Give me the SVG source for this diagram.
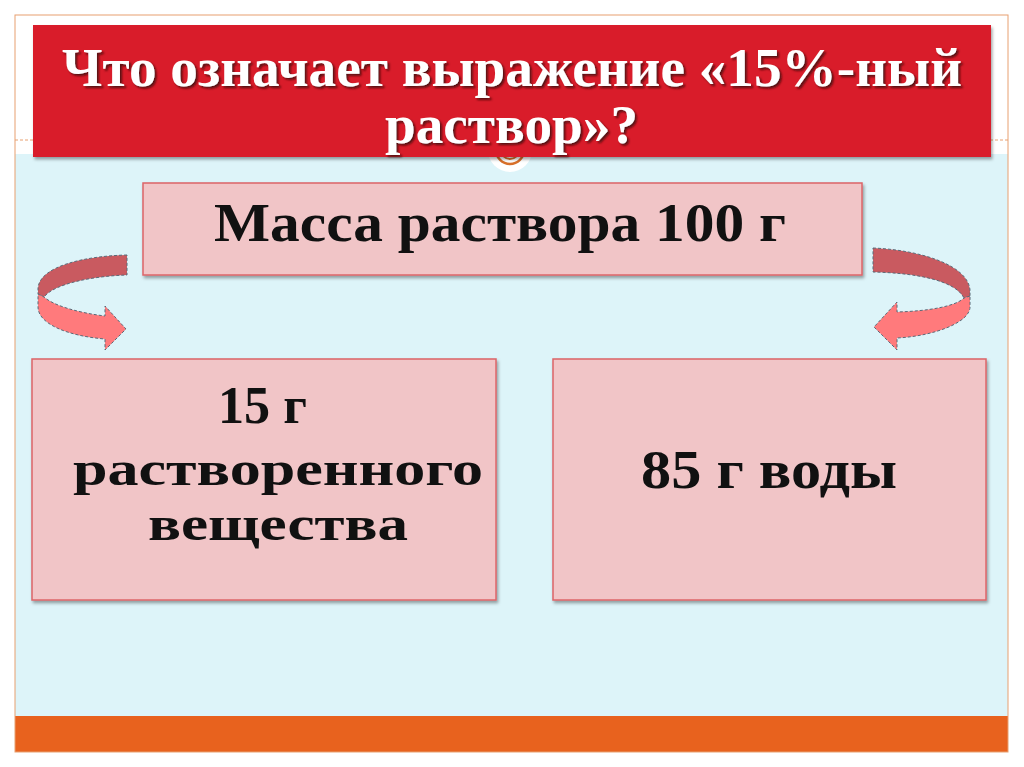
<svg xmlns="http://www.w3.org/2000/svg" width="1024" height="767" viewBox="0 0 1024 767">
<style>
.box{fill:#f1c5c7;stroke:#dc6468;stroke-width:1.5}
.txt{font-family:"Liberation Serif","DejaVu Serif",serif;font-weight:bold;fill:#111}
.title{font-family:"Liberation Serif","DejaVu Serif",serif;font-weight:bold;fill:#ffffff;font-size:54px}
.dark{fill:#c95a60;stroke:#5a6a78;stroke-width:1;stroke-dasharray:3 2}
.light{fill:#ff7a7c;stroke:#5a6a78;stroke-width:1;stroke-dasharray:3 2}
</style>
<defs>
<filter id="sh" x="-5%" y="-10%" width="110%" height="130%">
<feDropShadow dx="1.5" dy="2.5" stdDeviation="1.5" flood-color="#000" flood-opacity="0.35"/>
</filter>
<filter id="tsh" x="-5%" y="-20%" width="110%" height="150%">
<feDropShadow dx="2" dy="2" stdDeviation="1.2" flood-color="#4a0a0a" flood-opacity="0.9"/>
</filter>
</defs>
<rect x="0" y="0" width="1024" height="767" fill="#ffffff"/>
<g id="frame">
<rect x="15" y="154" width="993" height="562" fill="#ddf4f9"/>
<line x1="15" y1="140" x2="1008" y2="140" stroke="#e8a070" stroke-width="1" stroke-dasharray="3 2"/>
<rect x="15" y="716" width="993" height="36" fill="#e8621e"/>
<rect x="15" y="15" width="993" height="737" fill="none" stroke="#e8a070" stroke-width="1"/>
<circle cx="510" cy="150" r="22" fill="#ffffff"/>
<circle cx="510" cy="150" r="14" fill="none" stroke="#d8702a" stroke-width="2.5"/>
<circle cx="510" cy="150" r="9" fill="none" stroke="#d8702a" stroke-width="2"/>
</g>
<g id="title">
<rect x="33" y="25" width="958" height="132" fill="#d91f2a" filter="url(#sh)"/>
<g filter="url(#tsh)">
<text class="title" x="62" y="86" textLength="900" lengthAdjust="spacingAndGlyphs">Что означает выражение «15%-ный</text>
<text class="title" x="385" y="143" textLength="253" lengthAdjust="spacingAndGlyphs">раствор»?</text>
</g>
</g>
<g id="connectors">
<path class="dark" d="M127,255 C85,256 40,266 38,288 L38,294 L44,297 C55,283 95,276 127,275 Z"/>
<path class="light" d="M38,294 L44,297 C54,306 80,313 105,316 L105,306 L126,329 L105,350 L105,339 C68,336 38,324 38,307 Z"/>
<path class="dark" d="M873,248 C920,250 968,265 970,290 L970,296 L964,298 C955,280 915,273 873,272 Z"/>
<path class="light" d="M970,296 L964,298 C956,306 930,311 897,312 L897,302 L874,327 L897,350 L897,338 C935,336 970,322 970,307 Z"/>
</g>
<g id="node-mass">
<rect class="box" x="143" y="183" width="719" height="92" filter="url(#sh)"/>
<text class="txt" x="214" y="241" font-size="54" textLength="572" lengthAdjust="spacingAndGlyphs">Масса раствора 100 г</text>
</g>
<g id="node-solute">
<rect class="box" x="32" y="359" width="464" height="241" filter="url(#sh)"/>
<text class="txt" x="218" y="423" font-size="52" textLength="89" lengthAdjust="spacingAndGlyphs">15 г</text>
<text class="txt" x="73" y="485" font-size="48" textLength="410" lengthAdjust="spacingAndGlyphs">растворенного</text>
<text class="txt" x="148" y="540" font-size="48" textLength="260" lengthAdjust="spacingAndGlyphs">вещества</text>
</g>
<g id="node-water">
<rect class="box" x="553" y="359" width="433" height="241" filter="url(#sh)"/>
<text class="txt" x="641" y="488" font-size="54" textLength="256" lengthAdjust="spacingAndGlyphs">85 г воды</text>
</g>
</svg>
